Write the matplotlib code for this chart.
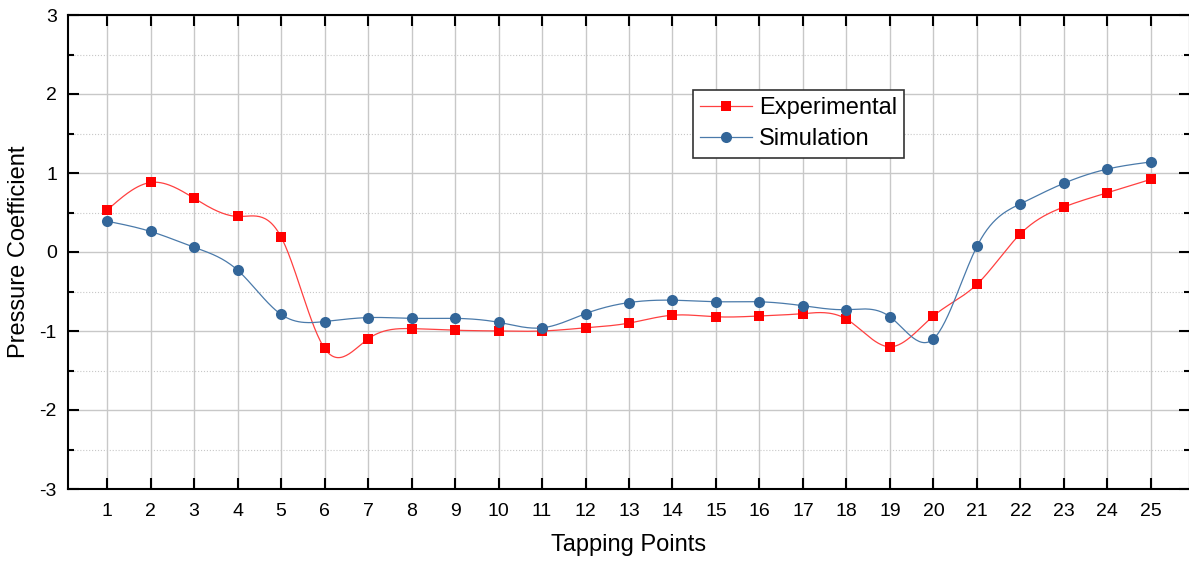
import numpy as np
import matplotlib
matplotlib.use("Agg")
import matplotlib.pyplot as plt
from matplotlib.lines import Line2D
from matplotlib.ticker import MultipleLocator

plt.rcParams['font.family'] = ['Liberation Sans', 'DejaVu Sans']
plt.rcParams['axes.unicode_minus'] = False

points = np.arange(1, 26)
experimental = [0.53, 0.88, 0.68, 0.45, 0.19, -1.22, -1.10, -0.97, -0.99, -1.00,
                -1.00, -0.96, -0.90, -0.80, -0.82, -0.81, -0.78, -0.85, -1.20, -0.81,
                -0.41, 0.23, 0.57, 0.75, 0.92]
simulation = [0.39, 0.26, 0.06, -0.23, -0.79, -0.88, -0.83, -0.84, -0.84, -0.89,
              -0.96, -0.78, -0.64, -0.61, -0.63, -0.63, -0.68, -0.73, -0.82, -1.10,
              0.07, 0.61, 0.87, 1.05, 1.14]

exp_color = '#ff0000'
sim_color = '#336699'


def spline(x, y, n=30):
    # natural cubic spline for the smooth connecting line
    x = np.asarray(x, float)
    y = np.asarray(y, float)
    h = np.diff(x)
    m = len(x)
    A = np.zeros((m, m))
    r = np.zeros(m)
    A[0, 0] = A[-1, -1] = 1
    for i in range(1, m - 1):
        A[i, i - 1] = h[i - 1]
        A[i, i] = 2 * (h[i - 1] + h[i])
        A[i, i + 1] = h[i]
        r[i] = 6 * ((y[i + 1] - y[i]) / h[i] - (y[i] - y[i - 1]) / h[i - 1])
    M = np.linalg.solve(A, r)
    xs = np.linspace(x[0], x[-1], (m - 1) * n + 1)
    idx = np.clip(np.searchsorted(x, xs) - 1, 0, m - 2)
    x0, x1 = x[idx], x[idx + 1]
    hh = x1 - x0
    t0 = x1 - xs
    t1 = xs - x0
    ys = (M[idx] * t0**3 / (6 * hh) + M[idx + 1] * t1**3 / (6 * hh)
          + (y[idx] / hh - M[idx] * hh / 6) * t0
          + (y[idx + 1] / hh - M[idx + 1] * hh / 6) * t1)
    return xs, ys


fig = plt.figure(figsize=(11.89, 5.63), dpi=100)
ax = fig.add_axes([68 / 1189, 1 - 489 / 563, 1122 / 1189, 474 / 563])

for vals, c, lc, mk, ms in [(experimental, exp_color, '#ff4040', 's', 7.2),
                            (simulation, sim_color, '#4a7aaa', 'o', 8.0)]:
    xs, ys = spline(points, vals)
    ax.plot(xs, ys, color=lc, lw=0.9, zorder=3)
    ax.plot(points, vals, linestyle='none', marker=mk, ms=ms, color=c,
            markeredgewidth=0, zorder=4)

ax.set_xlim(0.1, 25.9)
ax.set_ylim(-3, 3)
ax.set_xticks(points)
ax.yaxis.set_major_locator(MultipleLocator(1))
ax.yaxis.set_minor_locator(MultipleLocator(0.5))

ax.grid(True, which='major', color='#c8c8c8', lw=1)
ax.grid(True, which='minor', axis='y', color='#c8c8c8', lw=0.8, ls=':')
ax.set_axisbelow(True)

ax.tick_params(which='major', direction='in', length=8, width=1.5,
               top=True, right=True, labelsize=14, pad=10)
ax.tick_params(which='minor', direction='in', length=4, width=1.5, right=True)
ax.tick_params(axis='y', pad=8)
for s in ax.spines.values():
    s.set_linewidth(1.5)

ax.set_xlabel('Tapping Points', fontsize=17, labelpad=10)
ax.set_ylabel('Pressure Coefficient', fontsize=17, labelpad=7)

handles = [Line2D([], [], color='#ff4040', lw=0.9, marker='s', ms=7.2,
                  markerfacecolor=exp_color, markeredgewidth=0),
           Line2D([], [], color='#4a7aaa', lw=0.9, marker='o', ms=8.0,
                  markerfacecolor=sim_color, markeredgewidth=0)]
leg = ax.legend(handles, ['Experimental', 'Simulation'], loc='upper left',
                bbox_to_anchor=(0.557, 0.842), borderaxespad=0, fontsize=17,
                fancybox=False, edgecolor='#333333', framealpha=1,
                handlelength=2.2, labelspacing=0.4, borderpad=0.3,
                handletextpad=0.3)
leg.get_frame().set_linewidth(1.2)

fig.savefig('out.png', dpi=100)
